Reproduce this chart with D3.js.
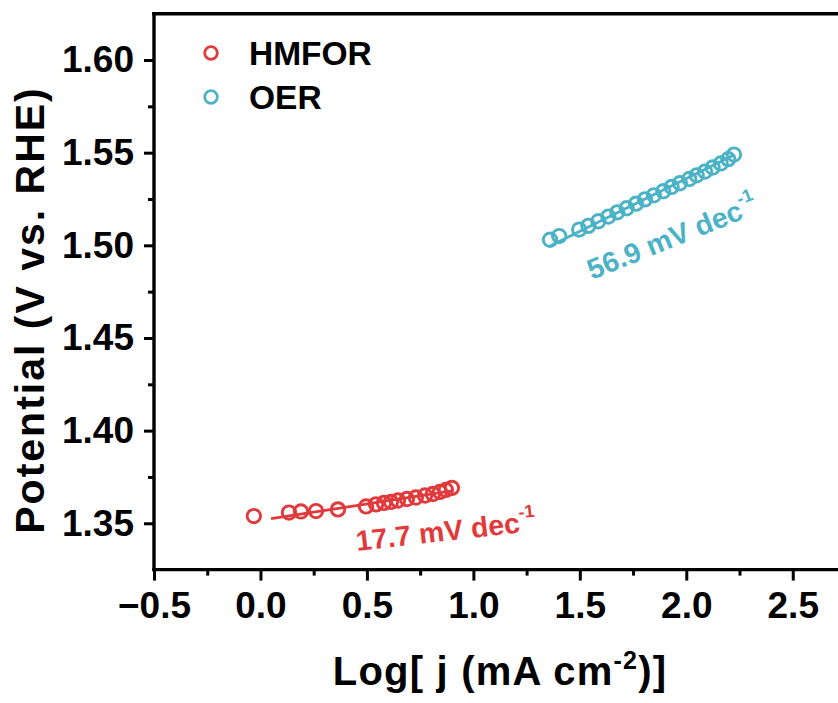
<!DOCTYPE html>
<html>
<head>
<meta charset="utf-8">
<script src="https://cdn.jsdelivr.net/npm/d3@7"></script>
<style>
  html, body { margin: 0; padding: 0; background: #fff; overflow: hidden; }
  svg { display: block; }
  text { font-family: Arial, "Liberation Sans", sans-serif; font-weight: bold; }
</style>
</head>
<body>
<svg id="chart" width="838" height="703"></svg>
<script>
// Tafel data: log current density vs. potential
const hmforLogJ = [-0.031, 0.134, 0.190, 0.261, 0.364, 0.496, 0.543, 0.580, 0.613, 0.646, 0.688, 0.730, 0.773, 0.810, 0.843, 0.871, 0.899];
const hmforE    = [1.3539, 1.3558, 1.3564, 1.3566, 1.3575, 1.3591, 1.3602, 1.3610, 1.3615, 1.3623, 1.3631, 1.3639, 1.3650, 1.3658, 1.3669, 1.3680, 1.3691];

const oerLogJ = [1.360, 1.403, 1.497, 1.540, 1.587, 1.634, 1.676, 1.720, 1.764, 1.806, 1.848, 1.892, 1.931, 1.970, 2.014, 2.049, 2.088, 2.124, 2.162, 2.197, 2.224];
const oerE    = [1.5030, 1.5050, 1.5085, 1.5105, 1.5130, 1.5155, 1.5178, 1.5200, 1.5225, 1.5248, 1.5270, 1.5292, 1.5315, 1.5335, 1.5358, 1.5378, 1.5398, 1.5420, 1.5442, 1.5465, 1.5490];

// Tafel slopes (V per decade) and the log j span of each fitted line
const tafelSlopes = { HMFOR: 0.0177, OER: 0.0569 };
const fitStartIndex = { HMFOR: 1, OER: 0 };
const fitSpan = { HMFOR: [0.05, 0.899], OER: [1.360, 2.224] };
const slopeLabels = { HMFOR: "17.7 mV dec", OER: "56.9 mV dec" };

const seriesNames = ["HMFOR", "OER"];
const seriesColors = { HMFOR: "#e23a3c", OER: "#4cb3c7" };

const xTicks = [-0.5, 0.0, 0.5, 1.0, 1.5, 2.0, 2.5];
const yTicks = [1.35, 1.40, 1.45, 1.50, 1.55, 1.60];

const svg = d3.select("#chart");

const x = d3.scaleLinear().domain([-0.5, 3.0]).range([154, 899.2]);
const y = d3.scaleLinear().domain([1.325, 1.625]).range([569.6, 13.7]);

const fmtX = v => (v < 0 ? "\u2212" : "") + d3.format(".1f")(Math.abs(v));
const fmtY = d3.format(".2f");

// frame: left, bottom, top
const frame = svg.append("g").attr("stroke", "#000").attr("stroke-width", 3.4).attr("fill", "none");
frame.append("line").attr("x1", x(-0.5)).attr("x2", x(-0.5)).attr("y1", y(1.625) - 1.7).attr("y2", y(1.325) + 1.7);
frame.append("line").attr("x1", x(-0.5) - 1.7).attr("x2", 838).attr("y1", y(1.325)).attr("y2", y(1.325));
frame.append("line").attr("x1", x(-0.5) - 1.7).attr("x2", 838).attr("y1", y(1.625)).attr("y2", y(1.625));

// x axis
const xAxis = d3.axisBottom(x).tickValues(xTicks).tickFormat(fmtX).tickSize(11).tickPadding(11);
const gx = svg.append("g").attr("transform", `translate(0,${y(1.325)})`).call(xAxis);
gx.select(".domain").remove();
gx.selectAll(".tick line").attr("stroke-width", 3);
gx.selectAll(".tick text").attr("font-size", 37).attr("fill", "#000")
  .attr("font-family", "Arial, 'Liberation Sans', sans-serif").attr("font-weight", "bold");
const xMinor = d3.axisBottom(x).tickValues(d3.range(-0.25, 3.0, 0.5)).tickFormat("").tickSize(6);
const gxm = svg.append("g").attr("transform", `translate(0,${y(1.325)})`).call(xMinor);
gxm.select(".domain").remove();
gxm.selectAll(".tick line").attr("stroke-width", 3);

// y axis
const yAxis = d3.axisLeft(y).tickValues(yTicks).tickFormat(fmtY).tickSize(10).tickPadding(10);
const gy = svg.append("g").attr("transform", `translate(${x(-0.5)},0)`).call(yAxis);
gy.select(".domain").remove();
gy.selectAll(".tick line").attr("stroke-width", 3);
gy.selectAll(".tick text").attr("font-size", 37).attr("fill", "#000")
  .attr("font-family", "Arial, 'Liberation Sans', sans-serif").attr("font-weight", "bold");
const yMinor = d3.axisLeft(y).tickValues([1.375, 1.425, 1.475, 1.525, 1.575]).tickFormat("").tickSize(6);
const gym = svg.append("g").attr("transform", `translate(${x(-0.5)},0)`).call(yMinor);
gym.select(".domain").remove();
gym.selectAll(".tick line").attr("stroke-width", 3);

// axis titles
const xTitle = svg.append("text").attr("x", 500).attr("y", 685).attr("text-anchor", "middle")
  .attr("font-size", 40).attr("letter-spacing", 1.2).attr("fill", "#000");
xTitle.append("tspan").text("Log[ j (mA cm");
xTitle.append("tspan").attr("font-size", 25).attr("dy", -16).text("-2");
xTitle.append("tspan").attr("dy", 16).text(")]");

svg.append("text").attr("transform", "translate(44,310) rotate(-90)").attr("text-anchor", "middle")
  .attr("font-size", 41).attr("letter-spacing", 2).attr("fill", "#000").text("Potential (V vs. RHE)");

// data series
const series = {
  HMFOR: hmforLogJ.map((v, i) => ({ x: v, y: hmforE[i] })),
  OER: oerLogJ.map((v, i) => ({ x: v, y: oerE[i] }))
};

seriesNames.forEach(name => {
  const pts = series[name];
  const k = tafelSlopes[name];
  const fitPts = pts.slice(fitStartIndex[name]);
  const b = d3.mean(fitPts, d => d.y - k * d.x);
  const span = fitSpan[name];
  svg.append("path")
    .attr("d", d3.line().x(d => x(d)).y(d => y(b + k * d))(span))
    .attr("stroke", seriesColors[name]).attr("stroke-width", 2.8).attr("fill", "none");
  svg.append("g").selectAll("circle").data(pts).join("circle")
    .attr("cx", d => x(d.x)).attr("cy", d => y(d.y)).attr("r", 6.7)
    .attr("fill", "none").attr("stroke", seriesColors[name]).attr("stroke-width", 2.9);
});

// slope annotations
function slopeLabel(name, px, py, angle) {
  const t = svg.append("text").attr("transform", `translate(${px},${py}) rotate(${angle})`)
    .attr("font-size", 28.5).attr("fill", seriesColors[name]);
  t.append("tspan").text(slopeLabels[name]);
  t.append("tspan").attr("font-size", 18).attr("dy", -14).text("-1");
}
slopeLabel("HMFOR", 357, 551, -6.5);
slopeLabel("OER", 592, 280, -22);

// legend
const legend = svg.append("g");
seriesNames.forEach((name, i) => {
  const cy = 53 + i * 44;
  legend.append("circle").attr("cx", 211).attr("cy", cy).attr("r", 6.3)
    .attr("fill", "none").attr("stroke", seriesColors[name]).attr("stroke-width", 2.8);
  legend.append("text").attr("x", 249).attr("y", cy + 12).attr("font-size", 33.5).attr("fill", "#000").text(name);
});
</script>
</body>
</html>
